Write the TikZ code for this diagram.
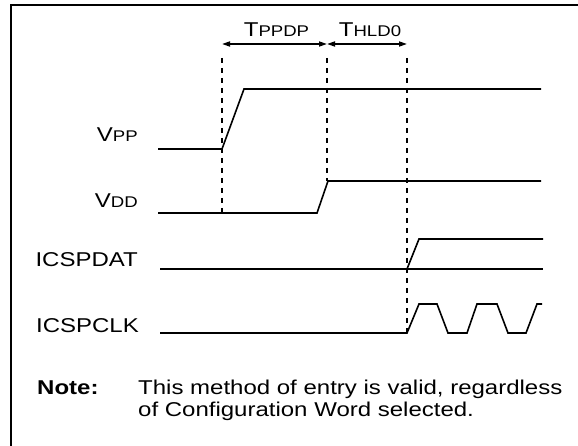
\documentclass[tikz,border=0pt]{standalone}
\usepackage{graphicx}
\usepackage{fontspec}
\setmainfont{Liberation Sans}
\usetikzlibrary{arrows.meta}
\newcommand{\wide}[1]{\scalebox{1.2}[1]{#1}}
\newcommand{\lbl}[2]{\wide{{\fontsize{20}{24}\selectfont #1}{\fontsize{15.5}{18}\selectfont #2}}}
\tikzset{
  frame/.style={line width=2pt},
  sig/.style={line width=1.6pt, line join=miter},
  guide/.style={line width=1.6pt, dash pattern=on 5pt off 5pt},
  dim/.style={line width=1.6pt, {Triangle[length=8pt,width=5pt]}-{Triangle[length=8pt,width=5pt]}},
  lab/.style={anchor=base east, inner sep=0pt, font=\fontsize{20}{24}\selectfont},
  notetxt/.style={anchor=base west, inner sep=0pt, font=\fontsize{20}{24}\selectfont}
}
\begin{document}
\begin{tikzpicture}[x=1pt,y=-1pt]
\useasboundingbox (0,0) rectangle (578,446);
% frame
\draw[frame] (11,446) -- (11,5) -- (578,5);
% guide coordinates
\coordinate (g1t) at (222,58); \coordinate (g1b) at (222,213);
\coordinate (g2t) at (327,58); \coordinate (g2b) at (327,181);
\coordinate (g3t) at (407,58); \coordinate (g3b) at (407,333);
\draw[guide] (g1t) -- (g1b);
\draw[guide] (g2t) -- (g2b);
\draw[guide] (g3t) -- (g3b);
% dimension arrows
\coordinate (a1) at (222,44); \coordinate (a2) at (327,44); \coordinate (a3) at (407,44);
\draw[dim] (a1) -- (a2);
\draw[dim] (a2) -- (a3);
\node[inner sep=0pt, anchor=base] (tppdp) at (276.5,37) {\lbl{T}{PPDP}};
\node[inner sep=0pt, anchor=base] (thld) at (370,37) {\lbl{T}{HLD0}};
% labels
\node[lab] (vpp) at (138,142) {\lbl{V}{PP}};
\node[lab] (vdd) at (138,208) {\lbl{V}{DD}};
\node[lab] (dat) at (138,267) {\wide{ICSPDAT}};
\node[lab] (clk) at (139,332) {\wide{ICSPCLK}};
% VPP
\draw[sig] (158,149) -- (222,149) -- (244,89) -- (541,89);
% VDD
\draw[sig] (158,213) -- (317,213) -- (328,181) -- (541,181);
% ICSPDAT
\draw[sig] (160,269) -- (543,269);
\draw[sig] (407,269) -- (419,239) -- (543,239);
% ICSPCLK
\draw[sig] (160,333) -- (407,333) -- (419,304) -- (437,304) -- (448,333) -- (467,333)
  -- (477,304) -- (497,304) -- (508,333) -- (526,333) -- (537,304) -- (542,304);
% note
\node[anchor=base west, inner sep=0pt, font=\fontsize{20}{24}\selectfont\bfseries] (note) at (37,394) {\wide{Note:}};
\node[notetxt] (n1) at (138,394) {\wide{This method of entry is valid, regardless}};
\node[notetxt] (n2) at (138,416) {\wide{of Configuration Word selected.}};
\end{tikzpicture}
\end{document}
